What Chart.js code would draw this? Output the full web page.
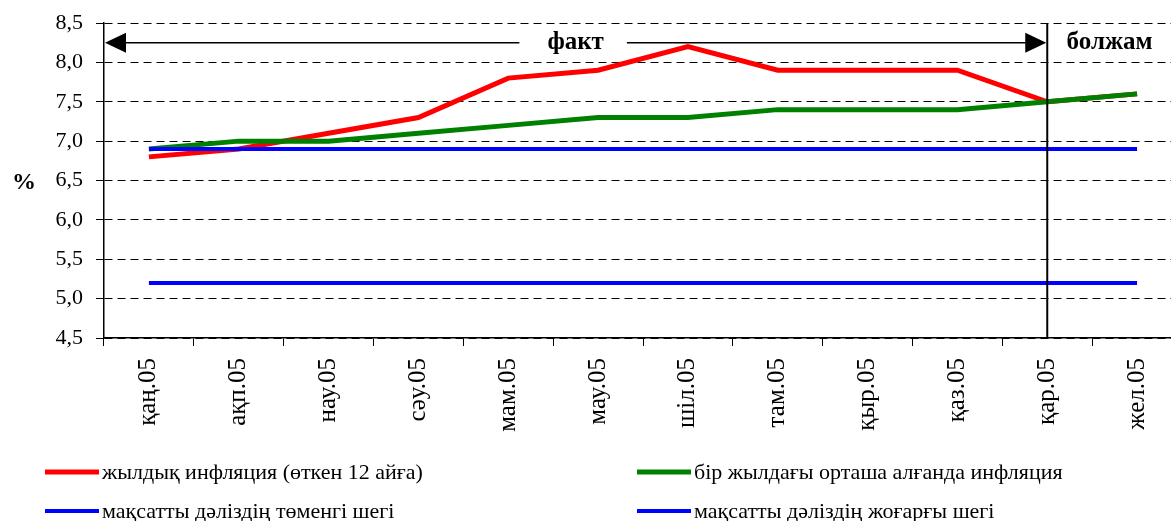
<!DOCTYPE html>
<html>
<head>
<meta charset="utf-8">
<script src="https://cdn.jsdelivr.net/npm/chart.js@4/dist/chart.umd.min.js"></script>
<style>
  html, body { margin:0; padding:0; background:#fff; overflow:hidden; width:1171px; height:521px; }
  #wrap { width:1182px; height:521px; }
</style>
</head>
<body>
<div id="wrap"><canvas id="c" width="1182" height="521"></canvas></div>
<script>
const categories = ['қаң.05','ақп.05','нау.05','сәу.05','мам.05','мау.05','шіл.05','там.05','қыр.05','қаз.05','қар.05','жел.05'];
const annualInflation = [6.8, 6.9, 7.1, 7.3, 7.8, 7.9, 8.2, 7.9, 7.9, 7.9, 7.5, 7.6];
const averageInflation = [6.9, 7.0, 7.0, 7.1, 7.2, 7.3, 7.3, 7.4, 7.4, 7.4, 7.5, 7.6];
const lowerBound = [5.2, 5.2, 5.2, 5.2, 5.2, 5.2, 5.2, 5.2, 5.2, 5.2, 5.2, 5.2];
const upperBound = [6.9, 6.9, 6.9, 6.9, 6.9, 6.9, 6.9, 6.9, 6.9, 6.9, 6.9, 6.9];
const seriesLabels = ['жылдық инфляция (өткен 12 айға)', 'бір жылдағы орташа алғанда инфляция', 'мақсатты дәліздің төменгі шегі', 'мақсатты дәліздің жоғарғы шегі'];
const yMin = 4.5, yMax = 8.5, yStep = 0.5;
const forecastStartIndex = 10;
const arrowLevel = 8.25;
const factLabel = 'факт';
const forecastLabel = 'болжам';
const unitLabel = '%';

const serif = "'Liberation Serif', 'Times New Roman', serif";

const overlay = {
  id: 'overlay',
  afterDatasetsDraw(chart) {
    const {ctx, chartArea: a, scales: {x, y}} = chart;
    const vx = x.getPixelForValue(forecastStartIndex);
    const ay = y.getPixelForValue(arrowLevel);
    ctx.save();
    // vertical separator
    ctx.strokeStyle = '#000'; ctx.lineWidth = 2;
    ctx.beginPath(); ctx.moveTo(vx, a.top); ctx.lineTo(vx, a.bottom); ctx.stroke();
    // arrow label
    ctx.font = "bold 25px " + serif;
    ctx.fillStyle = '#000';
    ctx.textBaseline = 'middle'; ctx.textAlign = 'center';
    const tx = (a.left + vx) / 2 + 0;
    const tw = ctx.measureText(factLabel).width;
    ctx.fillText(factLabel, tx, ay);
    ctx.lineWidth = 1.5;
    ctx.beginPath();
    ctx.moveTo(a.left + 20, ay); ctx.lineTo(tx - tw/2 - 28, ay);
    ctx.moveTo(tx + tw/2 + 23, ay); ctx.lineTo(vx - 20, ay);
    ctx.stroke();
    // arrow heads
    ctx.beginPath();
    ctx.moveTo(a.left + 1, ay); ctx.lineTo(a.left + 22, ay - 10); ctx.lineTo(a.left + 22, ay + 10); ctx.closePath();
    ctx.fill();
    ctx.beginPath();
    ctx.moveTo(vx - 1, ay); ctx.lineTo(vx - 22, ay - 10); ctx.lineTo(vx - 22, ay + 10); ctx.closePath();
    ctx.fill();
    ctx.fillText(forecastLabel, (vx + a.right) / 2 - 5, ay);
    // unit label
    ctx.font = "bold 24px " + serif;
    ctx.fillText(unitLabel, 24, y.getPixelForValue(6.5) + 2);
    // legend
    const ds = chart.data.datasets;
    const pos = [[45, 472], [637, 472], [45, 511], [637, 511]];
    ctx.font = "22px " + serif;
    ctx.textAlign = 'left';
    ds.forEach((d, i) => {
      const [lx, ly] = pos[i];
      ctx.strokeStyle = d.borderColor; ctx.lineWidth = d.borderWidth;
      ctx.beginPath(); ctx.moveTo(lx, ly); ctx.lineTo(lx + 54, ly); ctx.stroke();
      ctx.fillStyle = '#000';
      ctx.fillText(d.label, lx + 57, ly + 1);
    });
    ctx.restore();
  }
};

new Chart(document.getElementById('c'), {
  type: 'line',
  data: {
    labels: categories,
    datasets: [
      {label: seriesLabels[0], data: annualInflation, borderColor: '#ff0000', borderWidth: 5, order: 4},
      {label: seriesLabels[1], data: averageInflation, borderColor: '#008000', borderWidth: 5, order: 3},
      {label: seriesLabels[2], data: lowerBound, borderColor: '#0000ff', borderWidth: 4, order: 2},
      {label: seriesLabels[3], data: upperBound, borderColor: '#0000ff', borderWidth: 4, order: 1}
    ]
  },
  options: {
    responsive: false,
    animation: false,
    devicePixelRatio: 1,
    elements: { point: { radius: 0, hoverRadius: 0 }, line: { tension: 0, borderCapStyle: 'butt' } },
    layout: { padding: { top: 23, right: 0, bottom: 83, left: 0 } },
    plugins: { legend: { display: false }, tooltip: { enabled: false } },
    scales: {
      x: {
        offset: true,
        grid: { offset: true, drawOnChartArea: false, drawTicks: true, tickLength: 8, color: '#000' },
        border: { color: '#000', width: 1.5 },
        ticks: { color: '#000', font: { family: serif, size: 25 }, maxRotation: 90, minRotation: 90, padding: 12, autoSkip: false },
        afterFit(s) { s.height = 100; s.paddingLeft = 0; s.paddingRight = 0; }
      },
      y: {
        min: yMin, max: yMax,
        grid: { color: '#000', lineWidth: 1, tickLength: 8, tickBorderDash: [8, 5] },
        border: { color: '#000', width: 1.5, dash: [8, 5] },
        ticks: { stepSize: yStep, color: '#000', padding: 13, font: { family: serif, size: 22 },
          callback: v => v.toFixed(1).replace('.', ',') },
        afterFit(s) { s.width = 104; s.paddingTop = 0; s.paddingBottom = 0; }
      }
    }
  },
  plugins: [overlay]
});
</script>
</body>
</html>
